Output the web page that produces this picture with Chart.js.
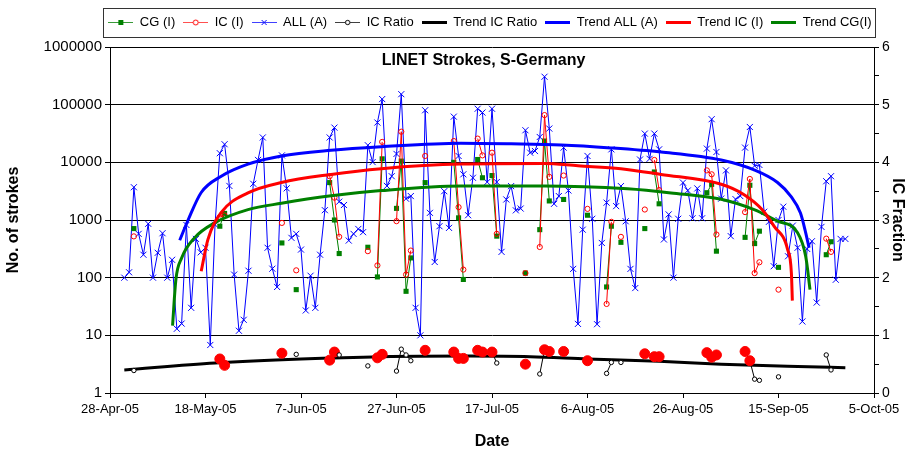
<!DOCTYPE html>
<html>
<head>
<meta charset="utf-8">
<script src="https://cdn.jsdelivr.net/npm/chart.js@4.4.0/dist/chart.umd.min.js"></script>
<style>
    html, body { margin: 0; padding: 0; background: #fff; }
</style>
</head>
<body>
<canvas id="chart" width="911" height="451"></canvas>
<script>
"use strict";
// x = days since 28-Apr-05
const tickDays = [0, 20, 40, 60, 80, 100, 120, 140, 160];
const dateLabels = ["28-Apr-05", "18-May-05", "7-Jun-05", "27-Jun-05", "17-Jul-05", "6-Aug-05", "26-Aug-05", "15-Sep-05", "5-Oct-05"];
const logTicks = [1, 10, 100, 1000, 10000, 100000, 1000000];

// ALL (A), one value per day starting at day 3
const allStart = 3;
const allValues = [
    100, 124, 3700, 575, 250, 860, 100, 270, 590, 100, 204, 13, 16, 820, 30, 470, 275, 330, 6.8, 830,
    14400, 20600, 3900, 113, 12, 18.6, 132, 4250, 11000, 27000, 330, 143, 69, 13200, 3540, 490, 575, 307, 27, 108,
    30, 250, 1480, 27000, 40000, 2080, 1820, 440, 575, 700, 615, 19800, 10100, 49000, 125000, 3900, 5750, 14000, 152000, 2340,
    2600, 30, 10, 80000, 1330, 187, 780, 3160, 730, 62000, 12900, 6200, 1210, 5400, 85000, 73000, 4550, 85000, 4550, 280,
    2270, 3870, 1470, 1580, 36000, 14700, 15700, 27500, 305000, 38500, 1910, 2600, 18000, 3250, 142, 15.8, 680, 12900, 1050, 15.6,
    400, 2000, 16800, 1740, 3870, 950, 142, 66, 11200, 31500, 11500, 31500, 16800, 460, 1250, 100, 1050, 4450, 3250, 1070,
    3530, 1070, 17300, 56000, 15100, 2350, 7250, 525, 2300, 2600, 18000, 41000, 8700, 9000, 1390, 930, 158, 1000, 1700, 235,
    800, 330, 17.4, 315, 428, 37, 760, 4700, 5750, 92, 470, 470
];

// days with IC / CG counts and the IC fraction
const icDays = [5, 23, 24, 36, 39, 46, 47, 48, 54, 56, 57, 60, 61, 62, 63, 66, 72, 73, 74, 77, 78, 80, 81,
    87, 90, 91, 92, 95, 100, 104, 105, 107, 112, 114, 115, 125, 126, 127, 133, 134, 135, 136, 140, 150, 151];
const icValues = [520, 1120, 1200, 890, 134, 5750, 2440, 510, 288, 163, 22600, 955, 34000, 113, 295, 12900, 23400, 1670, 138, 25800, 13200, 14700, 575,
    120, 340, 66000, 5600, 5900, 1560, 35, 930, 510, 1520, 11000, 3300, 7250, 6200, 560, 1370, 5150, 120, 185, 62, 475, 280];
const cgValues = [710, 780, 1300, 400, 62, 4450, 1000, 262, 337, 103, 11500, 1590, 10500, 58, 220, 4450, 10000, 1090, 93, 11200, 5400, 5900, 525,
    120, 680, 23400, 2140, 2270, 1210, 69, 780, 410, 710, 6800, 1910, 2970, 4150, 288, 500, 4000, 390, 640, 151, 250, 420];
const ratioValues = [0.39, 0.59, 0.48, 0.69, 0.67, 0.57, 0.71, 0.66, 0.47, 0.61, 0.67, 0.38, 0.76, 0.66, 0.56, 0.74, 0.71, 0.60, 0.60, 0.74, 0.71, 0.71, 0.52,
    0.50, 0.33, 0.75, 0.72, 0.72, 0.56, 0.34, 0.53, 0.53, 0.68, 0.63, 0.63, 0.70, 0.62, 0.66, 0.72, 0.56, 0.24, 0.22, 0.28, 0.66, 0.40];
// ratio points shown as big red dots
const ratioRedDays = [23, 24, 36, 46, 47, 56, 57, 66, 72, 73, 74, 77, 78, 80, 87, 91, 92, 95, 100, 112, 114, 115, 125, 126, 127, 133, 134];

// trend curves
const trendRatioDays = [3, 22, 40, 57, 75, 88, 100, 115, 128, 144, 154];
const trendRatioValues = [0.40, 0.52, 0.59, 0.63, 0.64, 0.63, 0.59, 0.55, 0.50, 0.46, 0.44];
const trendAllDays = [14.6, 16.4, 19.1, 23.3, 28.9, 35.9, 46.3, 56.8, 73.5, 84, 94.5, 104.9, 115.4, 128, 134.9, 139.8, 142.6, 144.6, 145.7, 146.4];
const trendAllValues = [445, 1020, 3000, 5750, 9300, 12900, 16200, 18600, 21400, 20900, 20000, 17800, 15100, 11000, 7400, 4470, 2570, 1320, 600, 330];
const trendIcDays = [19.1, 20.5, 23.3, 28.9, 35.9, 46.3, 56.8, 73.5, 90.9, 98, 107, 115.4, 128, 132.8, 136.6, 139.1, 141.9, 142.7, 142.9];
const trendIcValues = [129, 457, 1350, 2950, 4470, 6170, 7760, 9330, 9550, 8700, 7760, 6170, 4170, 2750, 1510, 776, 309, 120, 40];
const trendCgDays = [13.1, 13.8, 15, 17.7, 21.9, 28.9, 35.9, 46.3, 56.8, 73.5, 90.9, 108.4, 117.5, 128, 134.9, 139.8, 144, 145.7, 146.6];
const trendCgValues = [14.7, 93, 219, 490, 890, 1510, 1950, 2630, 3240, 3890, 3890, 3470, 2950, 2290, 1510, 955, 603, 234, 62];

const FONT = "'Liberation Sans', Arial, sans-serif";
Chart.defaults.font.family = FONT;
Chart.defaults.color = "#000";

// consecutive days are joined, a null breaks the line elsewhere
function withGaps(days, values) {
    const pts = [];
    days.forEach((d, i) => {
        if(i > 0 && d - days[i - 1] > 1) {
            pts.push({x: d - 0.5, y: null});
        }
        pts.push({x: d, y: values[i]});
    });
    return pts;
}

function toPoints(days, values) {
    return days.map((d, i) => ({x: d, y: values[i]}));
}

const allPoints = allValues.map((v, i) => ({x: allStart + i, y: v}));

function makeIcon(color, width, marker) {
    const c = document.createElement("canvas");
    c.width = 25;
    c.height = 11;
    const g = c.getContext("2d");
    g.strokeStyle = color;
    g.lineWidth = width;
    g.beginPath();
    g.moveTo(0, 5.5);
    g.lineTo(25, 5.5);
    g.stroke();
    if(marker) marker(g);
    return c;
}

const legendIcons = [
    makeIcon("#3a9a3a", 1, g => { g.fillStyle = "#008000"; g.fillRect(10, 3, 5, 5); }),
    makeIcon("#ff5050", 1, g => {
        g.fillStyle = "#fff"; g.strokeStyle = "#ff0000";
        g.beginPath(); g.arc(12.5, 5.5, 2.5, 0, Math.PI * 2); g.fill(); g.stroke();
    }),
    makeIcon("#4040ff", 1, g => {
        g.strokeStyle = "#0000ff";
        g.beginPath(); g.moveTo(10, 3); g.lineTo(15, 8); g.moveTo(15, 3); g.lineTo(10, 8); g.stroke();
    }),
    makeIcon("#404040", 1, g => {
        g.fillStyle = "#fff"; g.strokeStyle = "#000";
        g.beginPath(); g.arc(12.5, 5.5, 2.2, 0, Math.PI * 2); g.fill(); g.stroke();
    }),
    makeIcon("#000", 3),
    makeIcon("#0000ff", 3),
    makeIcon("#ff0000", 3),
    makeIcon("#008000", 3)
];

const isRedDay = c => c.raw && ratioRedDays.includes(c.raw.x);

const whiteBackground = {
    id: "whiteBackground",
    beforeDraw(chart) {
        const ctx = chart.ctx;
        ctx.save();
        ctx.fillStyle = "#fff";
        ctx.fillRect(0, 0, chart.width, chart.height);
        ctx.restore();
    }
};

// keep the legend on one row, a bit wider than the plot, with space below it
const legendSpacing = {
    id: "legendSpacing",
    afterInit(chart) {
        const lg = chart.legend;
        const fit = lg.fit;
        lg.fit = function() {
            const mw = this.maxWidth;
            this.maxWidth = Math.max(mw, 880);
            fit.call(this);
            this.maxWidth = mw;
            if(this.height > 0) this.height += 8;
        };
    },
    afterLayout(chart) {
        const lg = chart.legend;
        lg.left = 96;
        lg.right = 884;
        lg.width = lg.right - lg.left;
    }
};

const legendFrame = {
    id: "legendFrame",
    afterDraw(chart) {
        const lg = chart.legend;
        const boxes = lg.legendHitBoxes;
        if(!boxes || !boxes.length) return;
        const left = Math.round(boxes[0].left - 5) + 0.5;
        const last = boxes[boxes.length - 1];
        const right = Math.round(last.left + last.width + 3) + 0.5;
        const ctx = chart.ctx;
        ctx.save();
        ctx.strokeStyle = "#333";
        ctx.lineWidth = 1;
        ctx.strokeRect(left, lg.top + 0.5, right - left, 29);
        ctx.restore();
    }
};

const plotTitle = {
    id: "plotTitle",
    afterDraw(chart) {
        const {ctx, chartArea} = chart;
        ctx.save();
        ctx.font = "bold 16px " + FONT;
        ctx.fillStyle = "#000";
        ctx.textAlign = "center";
        ctx.textBaseline = "middle";
        ctx.fillText("LINET Strokes, S-Germany", chartArea.left + chartArea.width * 0.489, chartArea.top + 14);
        ctx.restore();
    }
};

const trendStyle = (color) => ({
    borderColor: color,
    backgroundColor: color,
    borderWidth: 3,
    pointRadius: 0,
    cubicInterpolationMode: "monotone",
    fill: false
});

const chartInstance = new Chart(document.getElementById("chart"), {
    type: "line",
    data: {
        datasets: [
            {
                label: "CG (I)",
                data: withGaps(icDays, cgValues),
                yAxisID: "y",
                borderColor: "#008000",
                backgroundColor: "#008000",
                borderWidth: 1,
                pointStyle: "rect",
                pointRadius: 3.6,
                pointBorderWidth: 0,
                order: 5
            }, {
                label: "IC (I)",
                data: withGaps(icDays, icValues),
                yAxisID: "y",
                borderColor: "#ff0000",
                backgroundColor: "rgba(255,255,255,0)",
                borderWidth: 1,
                pointRadius: 2.6,
                pointBorderWidth: 1,
                order: 4
            }, {
                label: "ALL (A)",
                data: allPoints,
                yAxisID: "y",
                borderColor: "#0000ff",
                backgroundColor: "#0000ff",
                borderWidth: 1,
                pointStyle: "crossRot",
                pointRadius: 4.3,
                pointBorderWidth: 1,
                order: 6
            }, {
                label: "IC Ratio",
                data: withGaps(icDays, ratioValues),
                yAxisID: "y1",
                borderColor: "#000",
                borderWidth: 1,
                pointRadius: c => isRedDay(c) ? 5 : 2.2,
                pointBackgroundColor: c => isRedDay(c) ? "#ff0000" : "#fff",
                pointBorderColor: c => isRedDay(c) ? "#ff0000" : "#000",
                pointBorderWidth: 1,
                order: 0
            },
            Object.assign({label: "Trend IC Ratio", data: toPoints(trendRatioDays, trendRatioValues), yAxisID: "y1", order: 1}, trendStyle("#000")),
            Object.assign({label: "Trend ALL (A)", data: toPoints(trendAllDays, trendAllValues), yAxisID: "y", order: 2}, trendStyle("#0000ff")),
            Object.assign({label: "Trend IC (I)", data: toPoints(trendIcDays, trendIcValues), yAxisID: "y", order: 2}, trendStyle("#ff0000")),
            Object.assign({label: "Trend CG(I)", data: toPoints(trendCgDays, trendCgValues), yAxisID: "y", order: 2}, trendStyle("#008000"))
        ]
    },
    options: {
        responsive: false,
        animation: false,
        events: [],
        spanGaps: false,
        layout: { padding: { top: 8, left: 0, right: 0, bottom: 0 } },
        plugins: {
            tooltip: { enabled: false },
            legend: {
                position: "top",
                fullSize: false,
                labels: {
                    usePointStyle: true,
                    pointStyleWidth: 25,
                    padding: 8,
                    color: "#000",
                    font: { size: 13 },
                    generateLabels: chart => chart.data.datasets.map((ds, i) => ({
                        text: ds.label,
                        pointStyle: legendIcons[i],
                        datasetIndex: i,
                        hidden: false,
                        fontColor: "#000",
                        lineWidth: 0,
                        strokeStyle: "rgba(0,0,0,0)",
                        fillStyle: "rgba(0,0,0,0)"
                    }))
                }
            }
        },
        scales: {
            x: {
                type: "linear",
                min: 0,
                max: 160,
                afterBuildTicks: s => { s.ticks = tickDays.map(v => ({value: v})); },
                ticks: {
                    callback: (v, i) => dateLabels[i],
                    autoSkip: false,
                    maxRotation: 0,
                    font: { size: 13 },
                    color: "#000",
                    padding: 4
                },
                grid: { drawOnChartArea: false, tickLength: 5, color: "#000" },
                border: { color: "#000" },
                title: { display: true, text: "Date", color: "#000", font: { size: 16, weight: "bold" }, padding: { top: 4, bottom: 0 } },
                afterFit: s => { s.height = 58; }
            },
            y: {
                type: "logarithmic",
                position: "left",
                min: 1,
                max: 1000000,
                afterBuildTicks: s => { s.ticks = logTicks.map(v => ({value: v})); },
                ticks: { callback: v => String(v), font: { size: 15 }, color: "#000", padding: 3 },
                grid: { color: "#000", lineWidth: 1, tickLength: 5, tickColor: "#000" },
                border: { color: "#000" },
                title: { display: true, text: "No. of strokes", color: "#000", font: { size: 16, weight: "bold" } },
                afterFit: s => { s.width = 110; }
            },
            y1: {
                type: "linear",
                position: "right",
                min: 0,
                max: 6,
                ticks: {
                    stepSize: 0.5,
                    callback: v => Number.isInteger(v) ? String(v) : "",
                    font: { size: 14 },
                    color: "#000",
                    padding: 3
                },
                grid: { drawOnChartArea: false, tickLength: 5, color: "#000" },
                border: { color: "#000" },
                title: { display: true, text: "IC Fraction", color: "#000", font: { size: 16, weight: "bold" } },
                afterFit: s => { s.width = 37; }
            }
        }
    },
    plugins: [whiteBackground, legendSpacing, legendFrame, plotTitle]
});
</script>
</body>
</html>
